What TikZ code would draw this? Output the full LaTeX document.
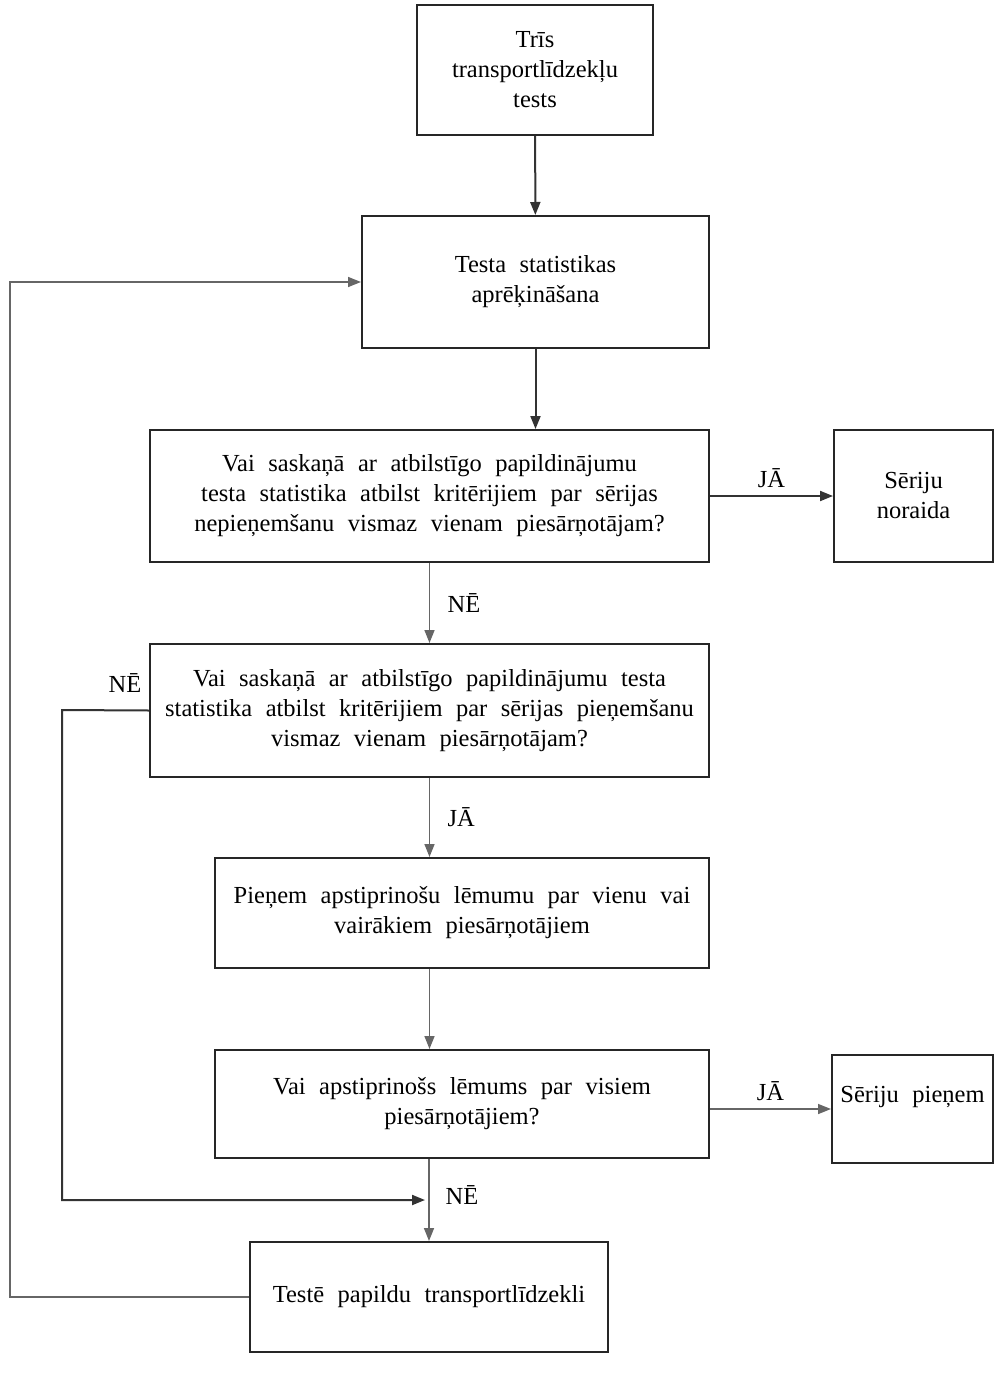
\documentclass[tikz,border=0pt]{standalone}
\usepackage{fontspec}
\setmainfont{Liberation Serif}
\usetikzlibrary{arrows.meta, positioning}

\newcommand{\widespace}{\spaceskip=0.55em plus 0.1em\relax}

\begin{document}
\begin{tikzpicture}[
    x=1pt, y=-1pt,
    box/.style={rectangle, draw=black!85, line width=2pt, align=center, inner sep=0pt,
        font=\fontsize{24.5}{30}\selectfont\widespace},
    arrow/.style={-{Triangle[length=13pt, width=10pt]}, line width=2pt, draw=black!80},
    thinarrow/.style={-{Triangle[length=13pt, width=10pt]}, line width=1.5pt, draw=black!60},
    lbl/.style={font=\fontsize{24.5}{30}\selectfont}
]
\useasboundingbox (0,0) rectangle (1002,1383);

\node[box, minimum width=236pt, minimum height=130pt] (tests) at (535,70) {Trīs\\transportlīdzekļu\\tests};
\node[box, minimum width=347pt, minimum height=132pt] (calc) at (535.5,282) {Testa statistikas\\aprēķināšana};
\node[box, minimum width=559pt, minimum height=132pt] (dec1) at (429.5,496)
    {Vai saskaņā ar atbilstīgo papildinājumu\\testa statistika atbilst kritērijiem par sērijas\\nepieņemšanu vismaz vienam piesārņotājam?};
\node[box, minimum width=159pt, minimum height=132pt, right=123pt of dec1] (reject) {Sēriju\\noraida};
\node[box, minimum width=559pt, minimum height=133pt] (dec2) at (429.5,710.5)
    {Vai saskaņā ar atbilstīgo papildinājumu testa\\statistika atbilst kritērijiem par sērijas pieņemšanu\\vismaz vienam piesārņotājam?};
\node[box, minimum width=494pt, minimum height=110pt] (confirm) at (462,913)
    {Pieņem apstiprinošu lēmumu par vienu vai\\vairākiem piesārņotājiem};
\node[box, minimum width=494pt, minimum height=108pt] (dec3) at (462,1104)
    {Vai apstiprinošs lēmums par visiem\\piesārņotājiem?};
\node[box, minimum width=161pt, minimum height=108pt, text depth=30pt] (accept) at (912.5,1109) {Sēriju pieņem};
\node[box, minimum width=358pt, minimum height=110pt] (extra) at (429,1297) {Testē papildu transportlīdzekli};

\coordinate (merge) at (429,1200);

% main flow
\draw[arrow] (tests) -- (calc);
\draw[arrow] (calc.south) -- (calc.south |- dec1.north);
\draw[arrow] (dec1.east) -- node[lbl, above=4pt]{JĀ} (reject.west);
\draw[thinarrow] (dec1.south) -- node[lbl, right=14pt]{NĒ} (dec2.north);
\draw[thinarrow] (dec2.south) -- node[lbl, right=14pt]{JĀ} (dec2.south |- confirm.north);
\draw[thinarrow] (dec2.south |- confirm.south) -- (dec2.south |- dec3.north);
\draw[thinarrow] (dec3.east |- accept.west) -- node[lbl, above=4pt]{JĀ} (accept.west);
\draw[thinarrow] (extra.north |- dec3.south) -- (extra.north);
\node[lbl] (no3) at (462,1195) {NĒ};

% loops
\draw[arrow] (dec2.west) -- (62,710) |- ([xshift=-4pt]merge);
\node[lbl] (no2) at (125,683) {NĒ};
\draw[thinarrow] (extra.west) -- (10,1297) |- (calc.west);

\end{tikzpicture}
\end{document}
